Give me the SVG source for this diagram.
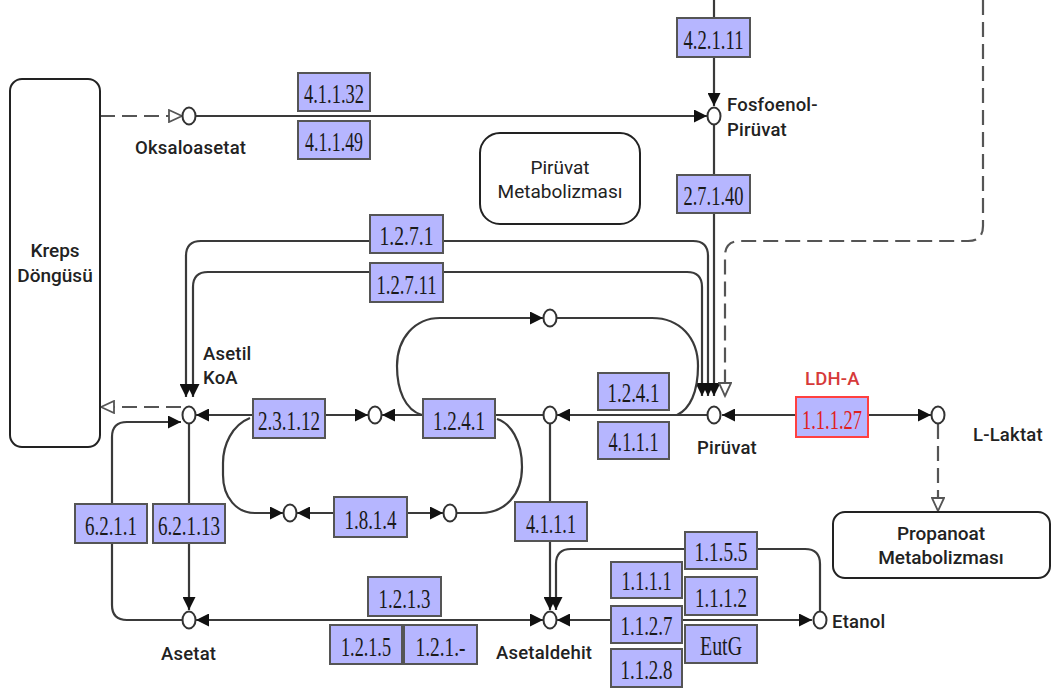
<svg xmlns="http://www.w3.org/2000/svg" width="1058" height="690" viewBox="0 0 1058 690">
<style>
.ln{fill:none;stroke:#3a3a3a;stroke-width:2.2}
.dash{fill:none;stroke:#555;stroke-width:2.2;stroke-dasharray:15 7}
.cpd{fill:#fff;stroke:#333;stroke-width:2}
.enz rect{fill:#b6b6ff;stroke:#555;stroke-width:2}
.enz text{font-family:"Liberation Serif",serif;font-size:27px;fill:#1a1a1a;text-anchor:middle}
.red rect{stroke:#ff4040}
.red text{fill:#e02020}
.lbl{font-family:Roboto,"Liberation Sans",sans-serif;font-size:18.5px;font-weight:500;fill:#222;letter-spacing:0.2px}
.map rect{fill:#fff;stroke:#222;stroke-width:2}
.map text{font-family:Roboto,"Liberation Sans",sans-serif;font-size:19px;fill:#222;text-anchor:middle}
</style>
<defs>
<marker id="af" markerUnits="userSpaceOnUse" markerWidth="14" markerHeight="13" refX="13" refY="6.5" orient="auto-start-reverse" viewBox="0 0 14 13"><path d="M0,0 L13,6.5 L0,13 z" fill="#111"/></marker>
<marker id="ah" markerUnits="userSpaceOnUse" markerWidth="16" markerHeight="14" refX="14" refY="7" orient="auto-start-reverse" viewBox="0 0 16 14"><path d="M1,1 L14,7 L1,13 z" fill="#fff" stroke="#555" stroke-width="1.8"/></marker>
</defs>
<rect width="1058" height="690" fill="#fff"/>

<g id="connectors">
<path class="dash" d="M100,116 L182,116" marker-end="url(#ah)"/>
<path class="ln" d="M196,116 L707,116" marker-end="url(#af)"/>
<path class="ln" d="M714,0 L714,106" marker-end="url(#af)"/>
<path class="ln" d="M714,125 L714,396" marker-end="url(#af)"/>
<path class="ln" d="M186,397 L186,256 Q186,241 201,241 L693,241 Q708,241 708,256 L708,396" marker-start="url(#af)" marker-end="url(#af)"/>
<path class="ln" d="M193,397 L193,287 Q193,272 208,272 L687,272 Q702,272 702,287 L702,396" marker-start="url(#af)" marker-end="url(#af)"/>
<path class="dash" d="M983,0 L983,226 Q983,241 968,241 L740,241 Q725,241 725,256 L725,396" marker-end="url(#ah)"/>
<path class="ln" d="M707,415 L557,415" marker-end="url(#af)"/>
<path class="ln" d="M722,415 L931,415" marker-start="url(#af)" marker-end="url(#af)"/>
<path class="dash" d="M938,424 L938,511" marker-end="url(#ah)"/>
<path class="ln" d="M543,415 L382,415" marker-end="url(#af)"/>
<path class="ln" d="M196,415 L368,415" marker-start="url(#af)" marker-end="url(#af)"/>
<path class="ln" d="M422,415 C405,410 397,390 397,366 C397,338 415,318 440,318 L543,318" marker-end="url(#af)"/>
<path class="ln" d="M557,318 L652,318 C680,318 698,338 698,366 C698,392 690,409 677,415"/>
<path class="ln" d="M250,418 C232,425 223,445 223,463 L223,475 C223,498 237,513 255,513 L283,513" marker-end="url(#af)"/>
<path class="ln" d="M297,513 L443,513" marker-start="url(#af)" marker-end="url(#af)"/>
<path class="ln" d="M457,513 L480,513 C505,513 522,495 522,467 C522,440 510,423 497,419"/>
<path class="ln" d="M550,424 L550,610" marker-end="url(#af)"/>
<path class="ln" d="M820,611 L820,564 Q820,549 805,549 L571,549 Q556,549 556,564 L556,610" marker-end="url(#af)"/>
<path class="ln" d="M557,620 L812,620" marker-start="url(#af)" marker-end="url(#af)"/>
<path class="ln" d="M196,620 L543,620" marker-start="url(#af)" marker-end="url(#af)"/>
<path class="ln" d="M189,424 L189,610" marker-end="url(#af)"/>
<path class="ln" d="M182,620 L127,620 Q112,620 112,605 L112,437 Q112,422 127,422 L181,422" marker-end="url(#af)"/>
<path class="dash" d="M181,407 L101,407" marker-end="url(#ah)"/>
</g>

<g id="kreps" class="map"><rect x="10" y="79" width="90" height="368" rx="12"/><text x="55" y="257" font-weight="500">Kreps</text><text x="55" y="282" font-weight="500">Döngüsü</text></g>
<g id="piruvat-map" class="map"><rect x="480" y="133" width="160" height="91" rx="20"/><text x="560" y="174">Pirüvat</text><text x="560" y="198">Metabolizması</text></g>
<g id="propanoat-map" class="map"><rect x="833" y="512" width="217" height="66" rx="12"/><text x="941" y="540" font-weight="500">Propanoat</text><text x="941" y="564" font-weight="500">Metabolizması</text></g>

<g id="oksaloasetat"><ellipse class="cpd" cx="189" cy="116" rx="6.5" ry="8.5"/><text class="lbl" x="135" y="154">Oksaloasetat</text></g>
<g id="fosfoenolpiruvat"><ellipse class="cpd" cx="714" cy="116" rx="6.5" ry="8.5"/><text class="lbl" x="727" y="111">Fosfoenol-</text><text class="lbl" x="727" y="136">Pirüvat</text></g>
<g id="asetilkoa"><ellipse class="cpd" cx="189" cy="415" rx="6.5" ry="8.5"/><text class="lbl" x="203" y="360">Asetil</text><text class="lbl" x="203" y="384">KoA</text></g>
<g id="piruvat"><ellipse class="cpd" cx="714" cy="415" rx="6.5" ry="8.5"/><text class="lbl" x="697" y="454">Pirüvat</text></g>
<g id="llaktat"><ellipse class="cpd" cx="938" cy="415" rx="6.5" ry="8.5"/><text class="lbl" x="973" y="441">L-Laktat</text></g>
<g id="c-375"><ellipse class="cpd" cx="375" cy="415" rx="6.5" ry="8.5"/></g>
<g id="c-550a"><ellipse class="cpd" cx="550" cy="415" rx="6.5" ry="8.5"/></g>
<g id="c-550t"><ellipse class="cpd" cx="550" cy="318" rx="6.5" ry="8.5"/></g>
<g id="c-290"><ellipse class="cpd" cx="290" cy="513" rx="6.5" ry="8.5"/></g>
<g id="c-450"><ellipse class="cpd" cx="450" cy="513" rx="6.5" ry="8.5"/></g>
<g id="asetat"><ellipse class="cpd" cx="189" cy="620" rx="6.5" ry="8.5"/><text class="lbl" x="161" y="660">Asetat</text></g>
<g id="asetaldehit"><ellipse class="cpd" cx="550" cy="620" rx="6.5" ry="8.5"/><text class="lbl" x="496" y="659">Asetaldehit</text></g>
<g id="etanol"><ellipse class="cpd" cx="820" cy="620" rx="6.5" ry="8.5"/><text class="lbl" x="832" y="628">Etanol</text></g>

<g id="e41132" class="enz"><rect x="298" y="73" width="72" height="38"/><text x="334" y="103" textLength="60" lengthAdjust="spacingAndGlyphs">4.1.1.32</text></g>
<g id="e41149" class="enz"><rect x="298" y="121" width="72" height="38"/><text x="334" y="151" textLength="58" lengthAdjust="spacingAndGlyphs">4.1.1.49</text></g>
<g id="e42111" class="enz"><rect x="677" y="18" width="73" height="39"/><text x="713.5" y="49" textLength="60" lengthAdjust="spacingAndGlyphs">4.2.1.11</text></g>
<g id="e27140" class="enz"><rect x="677" y="175" width="73" height="38"/><text x="713.5" y="205" textLength="60" lengthAdjust="spacingAndGlyphs">2.7.1.40</text></g>
<g id="e1271" class="enz"><rect x="370" y="215" width="73" height="38"/><text x="406.5" y="245" textLength="54" lengthAdjust="spacingAndGlyphs">1.2.7.1</text></g>
<g id="e12711" class="enz"><rect x="370" y="263" width="73" height="39"/><text x="406.5" y="294" textLength="60" lengthAdjust="spacingAndGlyphs">1.2.7.11</text></g>
<g id="e23112" class="enz"><rect x="253" y="399" width="72" height="39"/><text x="289" y="430" textLength="62" lengthAdjust="spacingAndGlyphs">2.3.1.12</text></g>
<g id="e1241a" class="enz"><rect x="423" y="399" width="72" height="39"/><text x="459" y="430" textLength="52" lengthAdjust="spacingAndGlyphs">1.2.4.1</text></g>
<g id="e1241b" class="enz"><rect x="598" y="373" width="71" height="37"/><text x="633.5" y="402" textLength="52" lengthAdjust="spacingAndGlyphs">1.2.4.1</text></g>
<g id="e4111a" class="enz"><rect x="598" y="422" width="71" height="37"/><text x="633.5" y="451" textLength="50" lengthAdjust="spacingAndGlyphs">4.1.1.1</text></g>
<g id="e4111b" class="enz"><rect x="515" y="502" width="72" height="39"/><text x="551" y="533" textLength="50" lengthAdjust="spacingAndGlyphs">4.1.1.1</text></g>
<g id="e1814" class="enz"><rect x="334" y="497" width="73" height="40"/><text x="370.5" y="529" textLength="52" lengthAdjust="spacingAndGlyphs">1.8.1.4</text></g>
<g id="e6211" class="enz"><rect x="75" y="504" width="72" height="39"/><text x="111" y="535" textLength="52" lengthAdjust="spacingAndGlyphs">6.2.1.1</text></g>
<g id="e62113" class="enz"><rect x="153" y="504" width="72" height="39"/><text x="189" y="535" textLength="62" lengthAdjust="spacingAndGlyphs">6.2.1.13</text></g>
<g id="e1213" class="enz"><rect x="368" y="577" width="73" height="39"/><text x="404.5" y="608" textLength="52" lengthAdjust="spacingAndGlyphs">1.2.1.3</text></g>
<g id="e1215" class="enz"><rect x="330" y="625" width="72" height="39"/><text x="366" y="656" textLength="50" lengthAdjust="spacingAndGlyphs">1.2.1.5</text></g>
<g id="e121x" class="enz"><rect x="404" y="625" width="73" height="39"/><text x="440.5" y="656" textLength="50" lengthAdjust="spacingAndGlyphs">1.2.1.-</text></g>
<g id="e1155" class="enz"><rect x="685" y="532" width="72" height="37"/><text x="721" y="561" textLength="53" lengthAdjust="spacingAndGlyphs">1.1.5.5</text></g>
<g id="e1111" class="enz"><rect x="611" y="562" width="71" height="36"/><text x="646.5" y="590" textLength="50" lengthAdjust="spacingAndGlyphs">1.1.1.1</text></g>
<g id="e1112" class="enz"><rect x="685" y="577" width="72" height="38"/><text x="721" y="607" textLength="52" lengthAdjust="spacingAndGlyphs">1.1.1.2</text></g>
<g id="e1127" class="enz"><rect x="611" y="606" width="71" height="37"/><text x="646.5" y="635" textLength="52" lengthAdjust="spacingAndGlyphs">1.1.2.7</text></g>
<g id="eeutg" class="enz"><rect x="685" y="625" width="72" height="38"/><text x="721" y="655" textLength="42" lengthAdjust="spacingAndGlyphs">EutG</text></g>
<g id="e1128" class="enz"><rect x="611" y="649" width="71" height="38"/><text x="646.5" y="679" textLength="52" lengthAdjust="spacingAndGlyphs">1.1.2.8</text></g>
<g id="e11127" class="enz red"><rect x="796" y="397" width="72" height="40"/><text x="832" y="429" textLength="60" lengthAdjust="spacingAndGlyphs">1.1.1.27</text><text class="lbl" x="805" y="385" style="fill:#d63a3a;font-family:Roboto,'Liberation Sans',sans-serif;font-size:18.5px;text-anchor:start">LDH-A</text></g>
</svg>
